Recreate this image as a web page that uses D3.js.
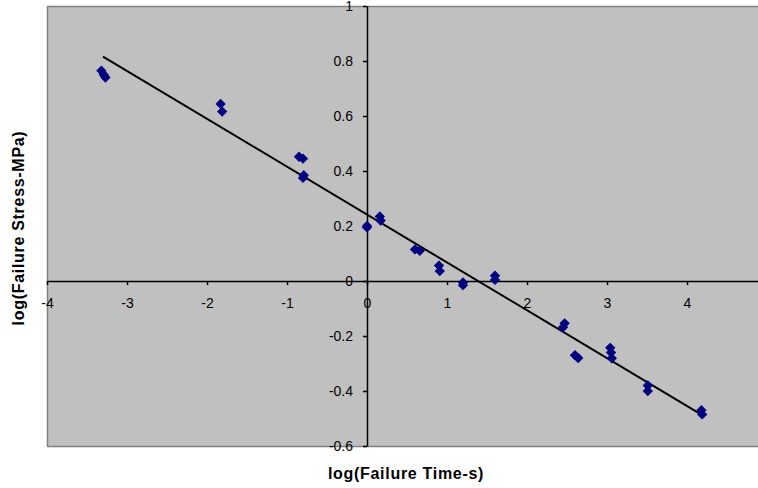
<!DOCTYPE html>
<html>
  <head>
    <title>Failure stress vs time</title>
    <script src="https://cdn.jsdelivr.net/npm/d3@7"></script>
    <style>
      body { margin: 0; background: #fff; }
    </style>
  </head>
  <body>
    <svg width="758" height="488" id="mainsvg"></svg>
    <script>
        // log(failure time, s) and log(failure stress, MPa)
        const xVals = [-3.32, -3.29, -3.27, -1.83, -1.81, -0.85, -0.80, -0.79, -0.80,
                       0.00, 0.00, 0.16, 0.17, 0.60, 0.66, 0.90, 0.91, 1.20, 1.20,
                       1.60, 1.60, 2.47, 2.45, 2.60, 2.64, 3.04, 3.05, 3.06,
                       3.51, 3.51, 4.18, 4.19];
        const yVals = [0.765, 0.75, 0.74, 0.644, 0.616, 0.452, 0.445, 0.385, 0.375,
                       0.20, 0.195, 0.235, 0.22, 0.115, 0.11, 0.056, 0.036, -0.005, -0.015,
                       0.019, 0.004, -0.154, -0.168, -0.27, -0.28, -0.243, -0.26, -0.281,
                       -0.38, -0.40, -0.47, -0.485];
        const xTicks = [-4, -3, -2, -1, 0, 1, 2, 3, 4];
        const yTicks = [-0.6, -0.4, -0.2, 0, 0.2, 0.4, 0.6, 0.8, 1];
        // linear trendline ends
        const trendX = [-3.30, 4.18];
        const trendY = [0.816, -0.486];

        const svg = d3.select('#mainsvg');
        const plot = {left: 47, top: 6, right: 767, bottom: 446};

        const xScale = d3.scaleLinear().domain([-4, 5]).range([plot.left, plot.right]);
        const yScale = d3.scaleLinear().domain([-0.6, 1]).range([plot.bottom, plot.top]);

        svg.append('rect')
          .attr('x', plot.left + 0.5).attr('y', plot.top + 0.5)
          .attr('width', plot.right - plot.left).attr('height', plot.bottom - plot.top)
          .attr('fill', '#c0c0c0').attr('stroke', '#808080').attr('stroke-width', 1.5);

        const xAxis = d3.axisBottom(xScale).tickValues(xTicks)
          .tickSize(4).tickSizeOuter(0).tickPadding(13).tickFormat(d => String(d));
        const gx = svg.append('g').attr('transform', `translate(0, ${yScale(0)})`).call(xAxis);

        const yAxis = d3.axisLeft(yScale).tickValues(yTicks)
          .tickSize(4).tickSizeOuter(0).tickPadding(10).tickFormat(d => String(d));
        const gy = svg.append('g').attr('transform', `translate(${xScale(0)}, 0)`).call(yAxis);

        svg.selectAll('.domain, .tick line').attr('stroke', '#000').attr('stroke-width', 1.5);
        svg.selectAll('.tick text')
          .attr('font-family', 'Arial, "Liberation Sans", sans-serif')
          .attr('font-size', '14px').attr('fill', '#000');

        svg.append('line')
          .attr('x1', xScale(trendX[0])).attr('y1', yScale(trendY[0]))
          .attr('x2', xScale(trendX[1])).attr('y2', yScale(trendY[1]))
          .attr('stroke', '#000').attr('stroke-width', 2);

        const marker = d3.symbol(d3.symbolSquare, 40);
        xVals.forEach((xv, i) => {
          svg.append('path')
            .attr('d', marker())
            .attr('transform', `translate(${xScale(xv)}, ${yScale(yVals[i])}) rotate(45)`)
            .attr('fill', '#000080').attr('stroke', '#000080').attr('stroke-width', 1);
        });

        svg.append('text').text('log(Failure Time-s)')
          .attr('x', 406).attr('y', 479)
          .attr('text-anchor', 'middle')
          .attr('font-family', 'Arial, "Liberation Sans", sans-serif')
          .attr('font-weight', 'bold').attr('font-size', '16px')
          .attr('letter-spacing', '0.7px');

        svg.append('text').text('log(Failure Stress-MPa)')
          .attr('transform', `translate(24, 228) rotate(-90)`)
          .attr('text-anchor', 'middle')
          .attr('font-family', 'Arial, "Liberation Sans", sans-serif')
          .attr('font-weight', 'bold').attr('font-size', '16px')
          .attr('letter-spacing', '0.7px');
    </script>
  </body>
</html>
